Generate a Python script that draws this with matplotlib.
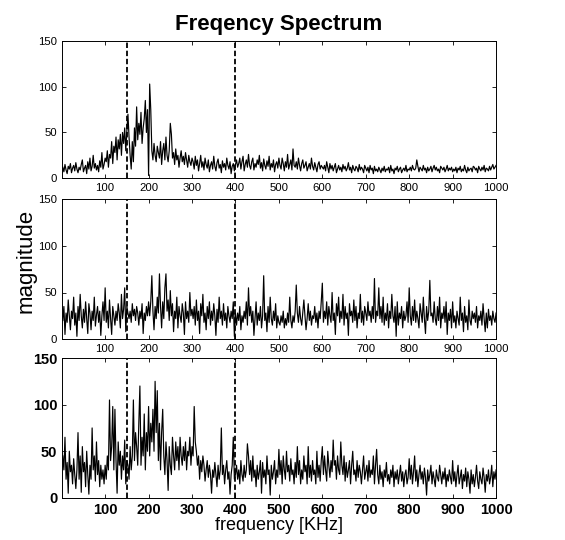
import numpy as np
import matplotlib.pyplot as plt

# magnitude, 2.5 kHz step (40 values per 100 kHz)
top = [12, 7, 15, 9, 5, 13, 10, 16, 6, 11, 14, 8, 17, 10, 6, 12, 9, 15, 20, 7, 11, 14, 5, 18, 10, 22, 8, 13, 25, 11, 16, 9, 14, 7, 19, 12, 28, 10, 15, 22,
       18, 30, 12, 26, 22, 40, 16, 35, 28, 45, 20, 42, 32, 48, 25, 50, 38, 55, 30, 52, 70, 45, 25, 10, 40, 18, 55, 35, 78, 42, 60, 48, 72, 38, 55, 65, 85, 50, 75, 3,
       103, 75, 30, 20, 38, 25, 18, 35, 28, 22, 40, 15, 30, 38, 20, 45, 25, 18, 30, 60, 48, 22, 28, 15, 32, 20, 25, 12, 22, 30, 18, 24, 15, 28, 20, 12, 25, 18, 14, 22,
       18, 10, 24, 14, 20, 8, 16, 25, 12, 18, 9, 22, 15, 11, 20, 7, 14, 18, 10, 24, 13, 8, 17, 21, 11, 15, 6, 19, 12, 16, 9, 22, 14, 10, 18, 5, 13, 16, 8, 15,
       20, 12, 16, 22, 10, 18, 24, 8, 15, 20, 12, 26, 14, 10, 18, 22, 9, 16, 12, 20, 15, 25, 11, 17, 8, 21, 14, 10, 19, 13, 24, 9, 16, 12, 20, 7, 15, 18, 11, 22,
       14, 10, 22, 16, 8, 18, 12, 26, 10, 15, 20, 9, 32, 14, 12, 18, 10, 22, 14, 8, 16, 20, 11, 14, 18, 8, 12, 16, 10, 22, 13, 9, 17, 12, 7, 15, 18, 10, 14, 12,
       10, 14, 8, 18, 12, 6, 16, 10, 14, 8, 12, 16, 6, 10, 14, 9, 12, 7, 15, 10, 13, 8, 11, 17, 9, 12, 6, 14, 10, 8, 13, 11, 7, 15, 9, 12, 10, 6, 14, 11,
       8, 12, 6, 14, 9, 11, 5, 13, 8, 10, 7, 12, 9, 6, 11, 8, 13, 7, 10, 9, 12, 6, 14, 8, 10, 5, 11, 9, 13, 7, 10, 12, 6, 9, 11, 8, 14, 7, 10, 9,
       12, 8, 14, 10, 9, 11, 20, 13, 7, 12, 10, 8, 14, 9, 11, 6, 12, 8, 10, 13, 7, 11, 14, 9, 12, 8, 10, 6, 13, 11, 9, 12, 7, 10, 14, 8, 11, 9, 12, 7,
       10, 8, 12, 6, 11, 9, 13, 7, 10, 8, 14, 9, 6, 12, 8, 10, 11, 7, 13, 12, 9, 11, 6, 13, 10, 8, 12, 9, 14, 7, 11, 10, 8, 13, 9, 12, 15, 10, 12, 14]

middle = [20, 35, 5, 28, 18, 42, 25, 10, 30, 22, 45, 15, 28, 3, 35, 20, 48, 25, 12, 32, 18, 40, 22, 6, 38, 28, 10, 30, 20, 45, 14, 26, 35, 18, 30, 4, 25, 40, 20, 55,
          18, 30, 12, 42, 22, 5, 35, 25, 15, 30, 20, 38, 28, 12, 48, 22, 32, 55, 8, 35, 28, 22, 30, 18, 38, 25, 32, 20, 35, 28, 15, 30, 22, 38, 6, 28, 20, 35, 25, 40,
          25, 40, 68, 30, 10, 35, 22, 45, 28, 70, 35, 12, 40, 22, 55, 70, 30, 42, 20, 52, 25, 38, 8, 30, 22, 45, 12, 35, 25, 18, 38, 28, 5, 40, 22, 30, 18, 50, 25, 32,
          22, 35, 15, 42, 20, 30, 6, 38, 25, 48, 18, 28, 10, 35, 22, 40, 15, 30, 20, 38, 25, 4, 32, 18, 45, 22, 30, 15, 38, 20, 28, 12, 35, 25, 18, 30, 22, 40, 3, 28,
          15, 28, 20, 35, 10, 25, 18, 30, 22, 40, 15, 55, 25, 35, 18, 30, 4, 22, 40, 15, 28, 20, 35, 12, 25, 68, 20, 28, 8, 35, 18, 45, 22, 15, 30, 20, 38, 12, 25, 18,
          15, 25, 18, 30, 12, 22, 15, 28, 18, 45, 20, 12, 25, 18, 30, 58, 28, 18, 35, 22, 15, 28, 42, 25, 10, 22, 38, 20, 30, 15, 25, 22, 35, 18, 28, 12, 30, 22, 40, 60,
          18, 30, 22, 40, 15, 35, 25, 18, 50, 20, 28, 5, 38, 25, 45, 18, 30, 22, 48, 15, 35, 22, 28, 4, 38, 25, 30, 18, 42, 20, 35, 12, 28, 22, 48, 18, 30, 15, 35, 28,
          20, 40, 25, 30, 18, 35, 22, 65, 18, 30, 25, 55, 22, 35, 18, 45, 15, 28, 20, 38, 12, 30, 22, 48, 25, 18, 35, 3, 40, 15, 28, 22, 35, 12, 30, 20, 25, 40, 18, 55,
          25, 15, 35, 20, 42, 18, 30, 22, 12, 38, 28, 18, 45, 22, 6, 35, 20, 30, 63, 25, 28, 18, 40, 22, 15, 35, 20, 45, 12, 28, 22, 35, 18, 40, 5, 28, 20, 32, 12, 40,
          18, 25, 12, 30, 22, 15, 45, 20, 28, 8, 35, 18, 25, 10, 42, 20, 15, 30, 22, 28, 18, 35, 12, 25, 20, 30, 15, 38, 22, 8, 28, 12, 32, 20, 25, 15, 30, 22, 18, 28]

bottom = [45, 30, 65, 20, 38, 5, 50, 28, 35, 15, 42, 25, 10, 30, 70, 20, 45, 6, 55, 28, 38, 12, 50, 25, 4, 35, 20, 75, 30, 45, 18, 60, 25, 40, 12, 35, 20, 30, 15, 35,
          20, 45, 30, 105, 40, 55, 98, 30, 95, 40, 5, 60, 35, 50, 20, 45, 30, 62, 15, 40, 35, 20, 55, 30, 45, 105, 40, 70, 55, 35, 80, 120, 35, 65, 45, 90, 30, 70, 50, 98,
          45, 80, 60, 95, 50, 125, 70, 115, 40, 80, 30, 70, 95, 45, 25, 60, 40, 8, 55, 35, 25, 65, 45, 30, 60, 40, 55, 30, 65, 45, 35, 55, 40, 60, 30, 50, 45, 65, 35, 55,
          45, 98, 60, 50, 35, 45, 20, 40, 28, 45, 35, 18, 30, 40, 22, 35, 25, 5, 30, 22, 38, 25, 12, 35, 20, 30, 75, 25, 35, 15, 30, 40, 20, 28, 4, 25, 35, 65, 20, 25,
          35, 20, 30, 15, 40, 25, 18, 35, 22, 30, 58, 45, 25, 40, 18, 45, 22, 30, 12, 35, 20, 28, 40, 5, 38, 22, 30, 15, 45, 25, 30, 3, 35, 20, 28, 40, 15, 30, 22, 52,
          25, 40, 15, 45, 30, 20, 50, 28, 35, 18, 42, 25, 30, 15, 38, 22, 55, 25, 40, 15, 30, 20, 45, 28, 35, 15, 55, 22, 35, 18, 40, 25, 30, 15, 50, 22, 35, 18, 40, 55,
          25, 45, 30, 18, 50, 35, 22, 40, 28, 62, 35, 40, 20, 45, 30, 25, 60, 35, 25, 45, 18, 38, 22, 30, 40, 15, 35, 50, 25, 30, 18, 40, 22, 35, 28, 15, 30, 45, 20, 28,
          35, 18, 40, 22, 30, 25, 45, 15, 35, 52, 25, 15, 35, 20, 28, 12, 30, 22, 38, 18, 25, 15, 30, 22, 35, 12, 28, 20, 30, 15, 25, 35, 18, 28, 12, 25, 30, 15, 22, 42,
          20, 35, 15, 28, 45, 18, 30, 12, 25, 35, 20, 28, 15, 32, 22, 3, 30, 18, 25, 35, 15, 28, 20, 12, 30, 22, 18, 35, 25, 15, 28, 20, 32, 12, 25, 18, 30, 22, 15, 40,
          18, 28, 12, 25, 35, 15, 22, 30, 10, 25, 18, 32, 12, 28, 20, 5, 30, 15, 25, 12, 22, 35, 18, 10, 28, 20, 15, 32, 22, 6, 25, 18, 30, 15, 22, 35, 12, 28, 20, 30]

markers = [150, 400]
xticks = [100, 200, 300, 400, 500, 600, 700, 800, 900, 1000]
yticks = [0, 50, 100, 150]

plt.rcParams['font.family'] = ['Liberation Sans', 'DejaVu Sans']

fig = plt.figure(figsize=(5.65, 5.40), dpi=100)
boxes = [[0.110, 0.670, 0.768, 0.254],
         [0.110, 0.372, 0.768, 0.259],
         [0.110, 0.078, 0.768, 0.259]]

for i, (box, series) in enumerate(zip(boxes, [top, middle, bottom])):
    ax = fig.add_axes(box)
    freq = np.linspace(2.5, 1000, len(series))
    ax.plot(freq, series, color='black', lw=0.85)
    for m in markers:
        ax.axvline(m, color='black', ls=(0, (3, 1.5)), lw=1.3)
    ax.set_xlim(1, 1000)
    ax.set_ylim(0, 150)
    ax.set_xticks(xticks)
    ax.set_yticks(yticks)
    ax.tick_params(direction='in', top=True, right=True, length=3, width=0.6)
    if i < 2:
        ax.tick_params(labelsize=8.2)
    else:
        ax.tick_params(labelsize=10.5)
        for lab in ax.get_xticklabels() + ax.get_yticklabels():
            lab.set_fontweight('bold')
    for s in ax.spines.values():
        s.set_linewidth(0.7)
    if i == 0:
        ax.set_title('Freqency Spectrum', fontsize=16, fontweight='bold', pad=8)
    if i == 1:
        ax.set_ylabel('magnitude', fontsize=16)
        ax.yaxis.set_label_coords(-0.058, 0.56)
    if i == 2:
        ax.set_xlabel('frequency [KHz]', fontsize=13, labelpad=0)

fig.savefig('out.png', dpi=100)
